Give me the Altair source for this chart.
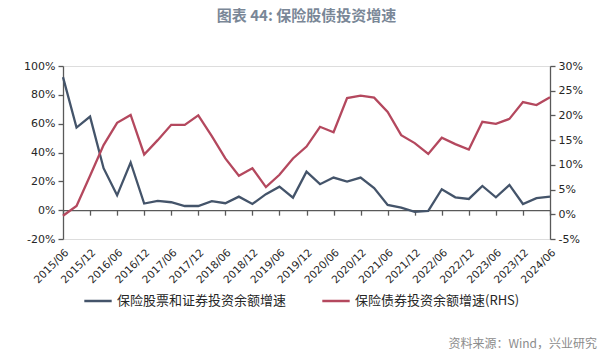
import altair as alt
import pandas as pd

quarters = [
    "2015/06", "2015/09", "2015/12", "2016/03", "2016/06", "2016/09", "2016/12", "2017/03",
    "2017/06", "2017/09", "2017/12", "2018/03", "2018/06", "2018/09", "2018/12", "2019/03",
    "2019/06", "2019/09", "2019/12", "2020/03", "2020/06", "2020/09", "2020/12", "2021/03",
    "2021/06", "2021/09", "2021/12", "2022/03", "2022/06", "2022/09", "2022/12", "2023/03",
    "2023/06", "2023/09", "2023/12", "2024/03", "2024/06",
]
stock_growth = [
    92.3, 57.3, 64.9, 29.1, 10.3, 33.1, 4.6, 6.5,
    5.5, 2.9, 2.9, 6.2, 4.8, 9.4, 4.3, 11.1,
    16.3, 8.7, 26.7, 18.0, 22.6, 19.8, 22.6, 15.4,
    3.6, 1.7, -1.2, -0.5, 14.5, 8.9, 7.8, 16.8,
    8.9, 17.5, 4.3, 8.3, 9.4,
]
bond_growth = [
    -0.3, 1.7, 7.8, 14.0, 18.5, 20.1, 12.1, 15.0,
    18.1, 18.1, 20.0, 15.8, 11.3, 7.8, 9.3, 5.5,
    8.0, 11.3, 13.7, 17.7, 16.6, 23.5, 24.0, 23.6,
    20.7, 16.0, 14.4, 12.2, 15.5, 14.2, 13.1, 18.7,
    18.3, 19.3, 22.7, 22.1, 23.7,
]
tick_labels = [q for q in quarters if q.endswith("/06") or q.endswith("/12")]
left_ticks = [-20, 0, 20, 40, 60, 80, 100]
right_ticks = [-5, 0, 5, 10, 15, 20, 25, 30]
series_names = ["保险股票和证券投资余额增速", "保险债券投资余额增速(RHS)"]
series_colors = ["#44546A", "#B4485E"]
title_text = "图表 44: 保险股债投资增速"
source_text = "资料来源：Wind，兴业研究"

n = len(quarters)
df = pd.DataFrame({
    "quarter": quarters + quarters,
    "series": [series_names[0]] * n + [series_names[1]] * n,
    "value": stock_growth + bond_growth,
})

W, H = 487, 173
AX = "#595959"
LBL = "#262626"
FONT = "DejaVu Sans"
CJK = "Noto Sans CJK SC"

x_scale = alt.Scale(type="point", padding=0, domain=quarters)
color = alt.Color(
    "series:N",
    scale=alt.Scale(domain=series_names, range=series_colors),
    legend=alt.Legend(
        orient="none", legendX=20, legendY=220, direction="horizontal", title=None,
        symbolType="stroke", symbolSize=750, symbolStrokeWidth=2.5,
        labelFont=CJK, labelFontSize=13, labelColor=LBL, columnPadding=30,
        labelOffset=4, labelLimit=0,
    ),
)

base = alt.Chart(df)

left = base.transform_filter(alt.datum.series == series_names[0]).mark_line(strokeWidth=2.3).encode(
    x=alt.X("quarter:O", scale=x_scale, sort=quarters,
            axis=alt.Axis(orient="bottom", values=tick_labels, labels=False, domain=True, ticks=True,
                          tickSize=5, offset=-H / 6, title=None, grid=False, domainColor=AX,
                          tickColor=AX, domainWidth=1.3, tickWidth=1.3)),
    y=alt.Y("value:Q", scale=alt.Scale(domain=[-20, 100], nice=False, zero=False),
            axis=alt.Axis(orient="left", values=left_ticks, labelExpr="datum.value + '%'", title=None,
                          grid=False, domainColor=AX, tickColor=AX, tickSize=5, labelFont=FONT,
                          labelFontSize=11, labelColor=LBL, domainWidth=1.3, tickWidth=1.3,
                          labelPadding=3)),
    color=color,
)

right = base.transform_filter(alt.datum.series == series_names[1]).mark_line(strokeWidth=2.3).encode(
    x=alt.X("quarter:O", scale=x_scale, sort=quarters,
            axis=alt.Axis(orient="bottom", values=tick_labels, labels=True, domain=False, ticks=False,
                          title=None, grid=False, labelAngle=-45, labelFont=FONT, labelFontSize=10.5,
                          labelColor=LBL, labelPadding=8)),
    y=alt.Y("value:Q", scale=alt.Scale(domain=[-5, 30], nice=False, zero=False),
            axis=alt.Axis(orient="right", values=right_ticks, labelExpr="datum.value + '%'", title=None,
                          grid=False, domainColor=AX, tickColor=AX, tickSize=5, labelFont=FONT,
                          labelFontSize=11, labelColor=LBL, domainWidth=1.3, tickWidth=1.3,
                          labelPadding=3)),
    color=color,
)

title = alt.Chart(pd.DataFrame({"t": [title_text]})).mark_text(
    font=CJK, fontSize=15, fontWeight="bold", color="#7A8797", align="center", baseline="middle"
).encode(text="t:N", x=alt.value(W / 2), y=alt.value(-50))

source = alt.Chart(pd.DataFrame({"t": [source_text]})).mark_text(
    font=CJK, fontSize=12, color="#8C8C8C", align="right", baseline="middle"
).encode(text="t:N", x=alt.value(534), y=alt.value(278))

chart = alt.layer(left, right, title, source).resolve_scale(y="independent").resolve_axis(
    x="independent", y="independent"
).properties(
    width=W, height=H,
    padding={"left": 55, "top": 58, "right": 57, "bottom": 111},
    autosize=alt.AutoSizeParams(type="none"),
).configure_view(stroke=None).configure(background="white")

chart.save("out.html", embed_options={"renderer": "svg", "actions": False})
